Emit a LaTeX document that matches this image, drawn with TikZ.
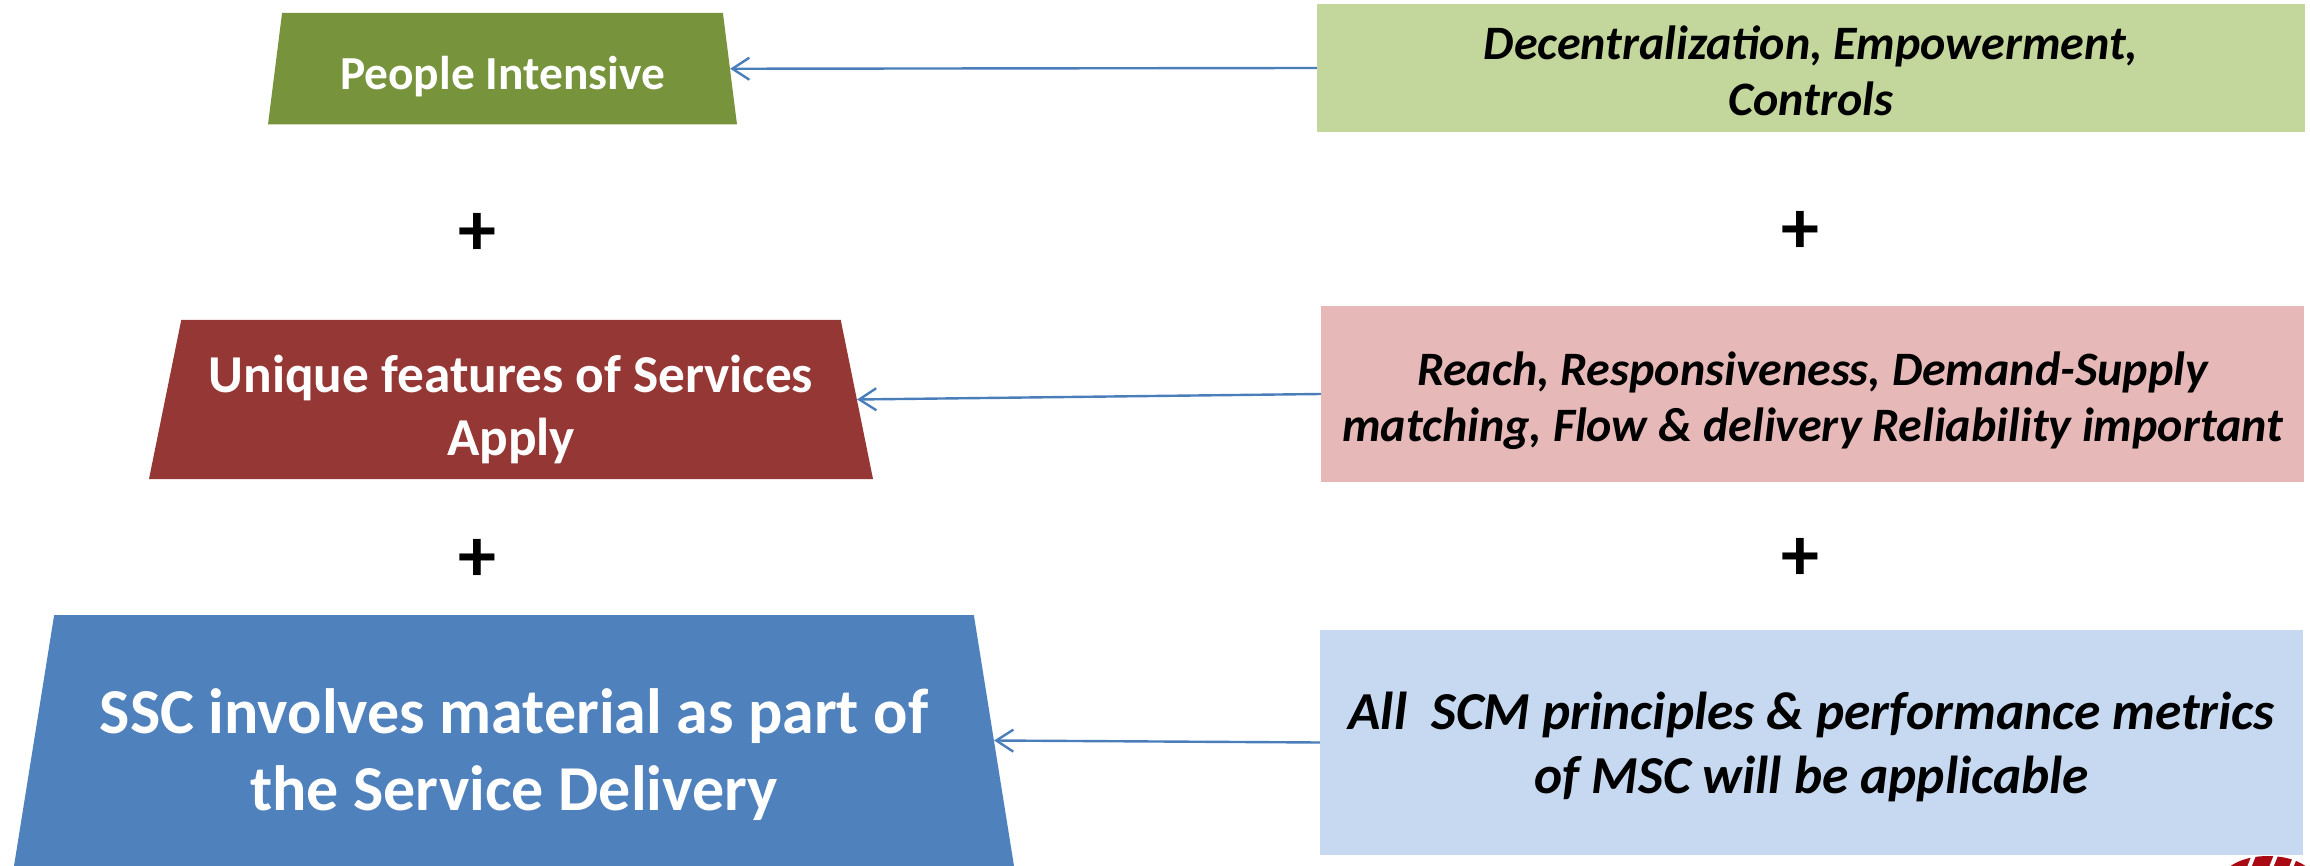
\documentclass[tikz,border=0pt]{standalone}
\usepackage{fontspec}
\setmainfont{Carlito}
\usepackage{tikz}
\usetikzlibrary{
  arrows.meta,
  shapes.geometric
}
\definecolor{PeopleFill}{RGB}{119,147,60}
\definecolor{UniqueFill}{RGB}{149,55,53}
\definecolor{MaterialFill}{RGB}{79,129,189}
\definecolor{ControlsFill}{RGB}{195,214,155}
\definecolor{ReachFill}{RGB}{230,185,184}
\definecolor{MetricsFill}{RGB}{198,217,241}
\definecolor{LinkColor}{RGB}{74,126,187}
\definecolor{LogoRed}{RGB}{170,10,20}
\newcommand{\dropby}[1]{\rule{0pt}{#1pt}}
\tikzset{
  % Left hand trapezium
  trap/.style={
    trapezium,
    trapezium stretches body=true,
    trapezium left angle=76,
    trapezium right angle=76,
    inner sep=0pt,
    align=center,
    text=white,
    font=\bfseries
  },
  % Right hand box
  rbox/.style={
    rectangle,
    inner sep=0pt,
    align=center,
    text=black,
    font=\bfseries\itshape\fontsize{48}{56}\selectfont
  },
  % Arrow from box to trapezium
  link/.style={
    draw=LinkColor,
    line width=2.4pt,
    -{Straight Barb[length=17pt,width=22pt,line width=2.4pt]}
  },
  % Plus sign
  plus/.style={
    font=\bfseries\fontsize{76}{76}\selectfont,
    inner sep=0pt
  }
}
\begin{document}
\begin{tikzpicture}[x=1pt,y=-1pt]
  \useasboundingbox (0,0) rectangle (2310,866);
  \node[trap, fill=PeopleFill, minimum width=469pt, minimum height=111.5pt,
    font=\bfseries\fontsize{47.4}{56}\selectfont] (people) at (502.5,68.75) {\dropby{49}People Intensive};
  \node[trap, fill=UniqueFill, minimum width=724pt, minimum height=159pt,
    font=\bfseries\fontsize{53.3}{63}\selectfont] (unique) at (511,399.5) {\dropby{58}Unique features of Services\\Apply};
  \node[trap, fill=MaterialFill, minimum width=1000pt, minimum height=251pt,
    font=\bfseries\fontsize{64}{77}\selectfont] (material) at (514,740.5) {\dropby{74}SSC involves material as part of\\the Service Delivery};
  \node[rbox, fill=ControlsFill, minimum width=988pt, minimum height=128pt] (controls) at (1811,68) {\dropby{39}Decentralization, Empowerment,\\Controls};
  \node[rbox, fill=ReachFill, minimum width=983pt, minimum height=176pt] (reach) at (1812.5,394) {\dropby{48}Reach, Responsiveness, Demand-Supply\\matching, Flow \& delivery Reliability important};
  \node[rbox, fill=MetricsFill, minimum width=983pt, minimum height=225pt,
    font=\bfseries\itshape\fontsize{53.4}{64}\selectfont] (metrics) at (1811.5,742.5) {\dropby{47}All\ \ SCM principles \& performance metrics\\of MSC will be applicable};
  \draw[link] (controls.west) -- (people.east);
  \draw[link] (reach.west) -- (unique.east);
  \draw[link] (metrics.west) -- (material.east);
  \foreach \px/\py/\pname in {477/234/pa, 1800/232/pb, 477/560/pc, 1800/559/pd} {
    \node[plus] (\pname) at (\px,\py) {+};
  }
  % Piece of the logo at the page corner
  \begin{scope}
    \clip (2200,856) rectangle (2310,866);
    \fill[LogoRed] (2268,880) ellipse (46pt and 24pt);
    \foreach \sx in {2248,2270,2290} {
      \draw[white, line width=4pt] (\sx,870) -- (\sx+8,850);
    }
  \end{scope}
\end{tikzpicture}
\end{document}
